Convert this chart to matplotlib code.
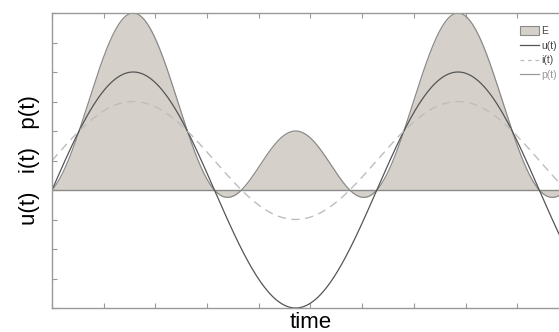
import numpy as np
import matplotlib.pyplot as plt
from matplotlib.patches import Patch
from matplotlib.lines import Line2D

# ========== data ==========
U_AMP = 4.0          # u(t) = U_AMP * sin(t)
I_OFFSET = 1.0       # i(t) = I_OFFSET + I_AMP * sin(t)
I_AMP = 2.0
P_SCALE = 0.5        # p(t) = P_SCALE * u(t) * i(t)
T_RANGE = [0.0, 10.0]
Y_RANGE = [-4.0, 6.0]
LEGEND_LABELS = ["E", "u(t)", "i(t)", "p(t)"]

# ========== colours ==========
FILL_COLOR = "#d5d1ca"
EDGE_COLOR = "#8a8a8a"
U_COLOR = "#555555"
I_COLOR = "#bdbdbd"
P_COLOR = "#9a9a9a"
SPINE_COLOR = "#999999"

t = np.linspace(T_RANGE[0], T_RANGE[1], 2000)
u = U_AMP * np.sin(t)
i = I_OFFSET + I_AMP * np.sin(t)
p = P_SCALE * u * i

plt.rcParams["font.family"] = ["Liberation Sans", "DejaVu Sans"]

fig = plt.figure(figsize=(5.59, 3.32), dpi=100)
ax = fig.add_axes([52 / 559, 24 / 332, 517 / 559, 295 / 332])

ax.fill_between(t, 0, p, color=FILL_COLOR, lw=0)
ax.plot(t, p, color=EDGE_COLOR, lw=0.9)
ax.axhline(0, color=EDGE_COLOR, lw=1.0)
ax.plot(t, u, color=U_COLOR, lw=0.9)
ax.plot(t, i, color=I_COLOR, lw=1.0, ls=(0, (6, 4)))

ax.set_xlim(*T_RANGE)
ax.set_ylim(*Y_RANGE)
ax.set_xticks(np.arange(T_RANGE[0], T_RANGE[1] + 0.1, 1))
ax.set_yticks(np.arange(Y_RANGE[0], Y_RANGE[1] + 0.1, 1))
ax.tick_params(direction="in", length=3.5, width=0.8, color=SPINE_COLOR,
               top=True, right=True, labelbottom=False, labelleft=False)
for s in ax.spines.values():
    s.set_color(SPINE_COLOR)
    s.set_linewidth(1.0)

ax.set_xlabel("time", fontsize=16, labelpad=3)
ax.set_ylabel("u(t)   i(t)   p(t)", fontsize=16, labelpad=9)

handles = [
    Patch(facecolor=FILL_COLOR, edgecolor=EDGE_COLOR, lw=0.8),
    Line2D([], [], color=U_COLOR, lw=0.9),
    Line2D([], [], color=I_COLOR, lw=0.9, ls=(0, (3, 3))),
    Line2D([], [], color=P_COLOR, lw=0.9),
]
leg = fig.legend(handles, LEGEND_LABELS, loc="upper left",
                 bbox_to_anchor=(518 / 559, 1 - 24 / 332), frameon=False,
                 fontsize=7.5, handlelength=1.8, handleheight=0.9,
                 handletextpad=0.25, labelspacing=0.45, borderaxespad=0.0,
                 borderpad=0.2)
for txt in leg.get_texts():
    txt.set_color("#444444")
leg.get_texts()[3].set_color("#999999")

fig.savefig("out.png", dpi=100)
